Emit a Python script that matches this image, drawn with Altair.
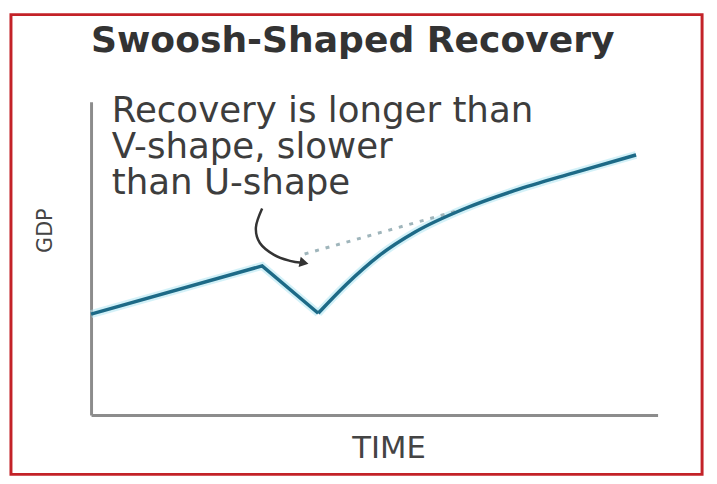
import altair as alt
import pandas as pd

# ---- data (x = time, y = GDP, both on a 0-100 index scale) ----
pre_time = [0.0, 30.2, 40.1]
pre_gdp = [32.2, 47.6, 32.5]

rec_time = [40.1, 45.0, 50.8, 57.2, 66.0, 74.7, 85.2, 96.2]
rec_gdp = [32.5, 41.6, 50.8, 58.4, 65.9, 71.6, 77.3, 83.0]

trend_time = [37.7, 65.5]
trend_gdp = [51.4, 65.6]

arrow_time = [30.2, 29.1, 29.8, 32.3, 35.1, 37.2]
arrow_gdp = [65.9, 59.9, 54.9, 51.1, 49.2, 48.6]
head_time = [37.6]
head_gdp = [48.6]

note_time = [3.66]
note_gdp = [93.4]
note_text = ["Recovery is longer than\nV-shape, slower\nthan U-shape"]

title_text = "Swoosh-Shaped Recovery"
x_title = "TIME"
y_title = "GDP"

FONT = "DejaVu Sans"

pre_df = pd.DataFrame({"t": pre_time, "g": pre_gdp})
rec_df = pd.DataFrame({"t": rec_time, "g": rec_gdp})
trend_df = pd.DataFrame({"t": trend_time, "g": trend_gdp})
arrow_df = pd.DataFrame({"t": arrow_time, "g": arrow_gdp, "o": list(range(len(arrow_time)))})
head_df = pd.DataFrame({"t": head_time, "g": head_gdp})
note_df = pd.DataFrame({"t": note_time, "g": note_gdp, "txt": note_text})

xs = alt.Scale(domain=[0, 100], nice=False, zero=False)
ys = alt.Scale(domain=[0, 100], nice=False, zero=False)

x_axis = alt.Axis(
    domain=True, domainColor="#8c8c8c", domainWidth=3, ticks=False, labels=False,
    grid=False, title=x_title, titleFont=FONT, titleFontSize=31, titleFontWeight="normal",
    titleColor="#444444", titleX=301, titleY=43, titleBaseline="alphabetic", titleAlign="center",
)
y_axis = alt.Axis(
    domain=True, domainColor="#8c8c8c", domainWidth=3, ticks=False, labels=False,
    grid=False, title=y_title, titleFont=FONT, titleFontSize=21, titleFontWeight="normal",
    titleColor="#444444", titleX=-46, titleY=130, titleBaseline="middle", titleAlign="center",
    titleAngle=270,
)

X = alt.X("t:Q", scale=xs, axis=x_axis)
Y = alt.Y("g:Q", scale=ys, axis=y_axis)
Xn = alt.X("t:Q", scale=xs)
Yn = alt.Y("g:Q", scale=ys)

LINE = "#1d6a87"
GLOW = "#aee6f2"

pre_glow = alt.Chart(pre_df).mark_line(color=GLOW, strokeWidth=8, opacity=0.55, strokeJoin="miter").encode(x=X, y=Y)
rec_glow = alt.Chart(rec_df).mark_line(color=GLOW, strokeWidth=8, opacity=0.55, interpolate="monotone").encode(x=Xn, y=Yn)
pre_line = alt.Chart(pre_df).mark_line(color=LINE, strokeWidth=3.5, strokeJoin="miter").encode(x=Xn, y=Yn)
rec_line = alt.Chart(rec_df).mark_line(color=LINE, strokeWidth=3.5, interpolate="monotone").encode(x=Xn, y=Yn)

trend = alt.Chart(trend_df).mark_line(color="#9fb5bb", strokeWidth=3, strokeDash=[4, 7]).encode(x=Xn, y=Yn)

arrow = alt.Chart(arrow_df).mark_line(color="#333333", strokeWidth=2.5, interpolate="cardinal").encode(
    x=Xn, y=Yn, order="o:O"
)
head = alt.Chart(head_df).mark_point(shape="triangle-right", filled=True, size=110, color="#333333",
                                     opacity=1, angle=12).encode(x=Xn, y=Yn)

note = alt.Chart(note_df).mark_text(
    align="left", baseline="alphabetic", font=FONT, fontSize=36, lineHeight=36.5,
    color="#3d3d3d", lineBreak="\n"
).encode(x=Xn, y=Yn, text="txt:N")

frame = alt.Chart(pd.DataFrame({"k": [0]})).mark_rect(
    filled=False, stroke="#c32228", strokeWidth=3, clip=False
).encode(x=alt.value(-81), x2=alt.value(618), y=alt.value(-88), y2=alt.value(377))

chart = alt.layer(
    pre_glow, rec_glow, trend, pre_line, rec_line, arrow, head, note, frame
).properties(
    width=573,
    height=317,
    background="white",
    title=alt.TitleParams(
        title_text, anchor="start", frame="group", font=FONT, fontSize=36.5,
        fontWeight="bold", color="#333333", offset=38, dy=85,
    ),
    autosize=alt.AutoSizeParams(type="none"),
    padding={"left": 84, "top": 92, "right": 52, "bottom": 66},
).configure_view(stroke="transparent", strokeWidth=0).configure_axis(grid=False)

chart.save("out.html", embed_options={"renderer": "svg", "actions": False})
